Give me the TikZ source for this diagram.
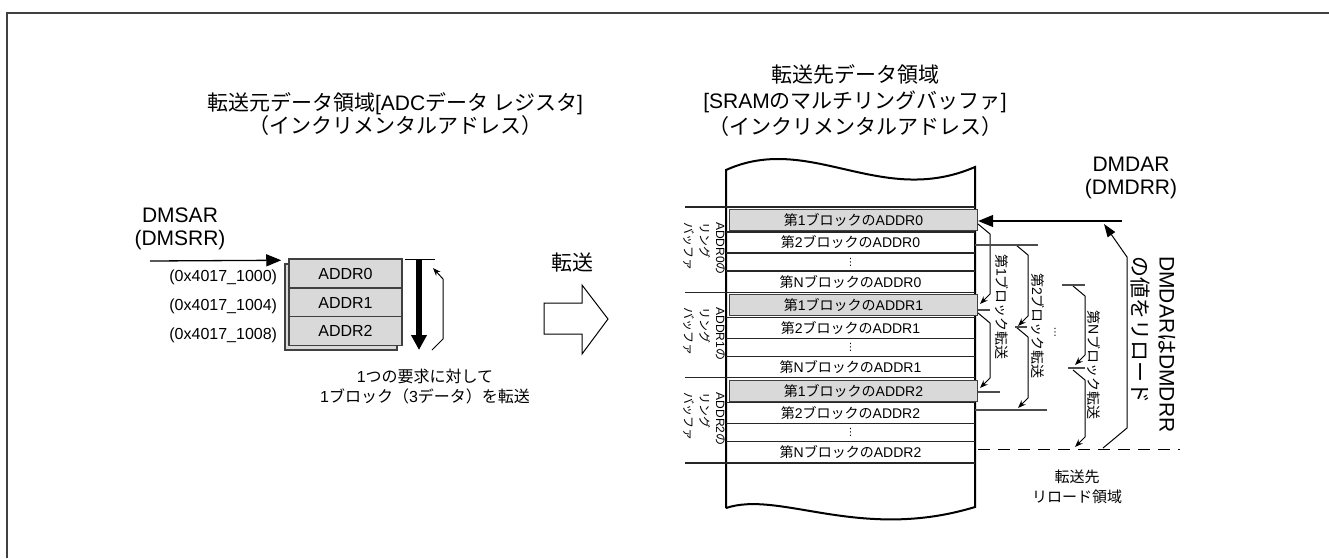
\documentclass[tikz,border=0pt]{standalone}
\usepackage{fontspec}
\setmainfont{Liberation Sans}
\newfontfamily\jpfont{Noto Sans CJK JP}
\newfontfamily\symfont{DejaVu Sans}
\usetikzlibrary{arrows.meta, calc}
\definecolor{boxgray}{RGB}{217,217,217}
\definecolor{edgegray}{RGB}{64,64,64}
\XeTeXinterchartokenstate=1
\newXeTeXintercharclass\jpclass
\newXeTeXintercharclass\symclass
\newcount\jpcode
\def\jprange#1#2{\jpcode=#1 \loop\ifnum\jpcode<#2 \XeTeXcharclass\jpcode=\jpclass \advance\jpcode by 1 \repeat}
\jprange{"3000}{"3100}
\jprange{"4E00}{"A000}
\jprange{"FF00}{"FFF0}
\XeTeXcharclass"22EE=\symclass
\XeTeXinterchartoks 0 \jpclass = {\jpfont}
\XeTeXinterchartoks 4095 \jpclass = {\jpfont}
\XeTeXinterchartoks \jpclass 0 = {\rmfamily}
\XeTeXinterchartoks 4095 0 = {\rmfamily}
\begin{document}
\begin{tikzpicture}[x=1pt, y=-1pt,
  rowtxt/.style={font=\fontsize{14}{16}\selectfont, inner sep=0pt},
  hilite/.style={rowtxt, draw=edgegray, fill=boxgray, line width=1.3pt, minimum width=248pt, minimum height=21pt},
  dotstxt/.style={font=\symfont\fontsize{10}{10}\selectfont, inner sep=0pt},
  srcbox/.style={draw=edgegray, fill=boxgray, line width=1.5pt, minimum width=113pt, minimum height=29pt,
    inner sep=0pt, font=\fontsize{16}{18}\selectfont},
  vlabel/.style={rotate=-90, inner sep=0pt, align=left, anchor=north west},
  brktxt/.style={rotate=-90, inner sep=0pt, font=\fontsize{14}{16}\selectfont},
  bigarr/.style={-{Triangle[length=15pt,width=12pt]}, line width=1.3pt},
  thinarr/.style={-{Stealth[length=8pt,width=6pt]}, line width=1pt},
  rowline/.style={line width=1.2pt, draw=black!85},
  tick/.style={line width=1.2pt, draw=black!70}
]
\useasboundingbox (0,0) rectangle (1329,558);
\draw[line width=2pt, draw=edgegray] (7,558) -- (7,13) -- (1329,13);

\node[font=\fontsize{21}{21}\selectfont, align=center] (srctitle) at (395,114)
  {転送元データ領域[ADCデータ レジスタ]\\（インクリメンタルアドレス）};
\node[font=\fontsize{21}{26}\selectfont, align=center] (dsttitle) at (855,101)
  {転送先データ領域\\{}[SRAMのマルチリングバッファ]\\（インクリメンタルアドレス）};

\node[font=\fontsize{21}{23}\selectfont, align=center, inner sep=0pt] (sar) at (180,229) {DMSAR\\(DMSRR)};
\draw[line width=1.5pt, draw=edgegray, fill=boxgray] (285,264) rectangle (397,350);
\node[srcbox] (a0) at (345.5,273.5) {ADDR0};
\node[srcbox] (a1) at (345.5,302.5) {ADDR1};
\node[srcbox] (a2) at (345.5,331) {ADDR2};
\foreach \i/\ad in {0/1000,1/1004,2/1008}
  \node[anchor=east, inner sep=0pt, font=\fontsize{16}{18}\selectfont] (ad\i) at ([xshift=-11pt,yshift=-4pt]a\i.west) {(0x4017\_\ad)};
\coordinate (sarin) at (150,261);
\draw[bigarr] (sarin) -- ([xshift=-7pt,yshift=-2pt]a0.north west);

\coordinate (blktop) at (419,259);
\coordinate (blkbot) at (419,350);
\draw[line width=6pt, -{Triangle[length=15pt,width=15pt]}] (blktop) -- (blkbot);
\draw[line width=1pt] ([xshift=-14pt]blktop) -- ([xshift=16pt]blktop);
\draw[thinarr] (432,350) -- (443,339) -- (443,279) -- (433,268);
\node[font=\fontsize{16}{20}\selectfont, align=center] (once) at (425,387) {1つの要求に対して\\1ブロック（3データ）を転送};

\node[font=\fontsize{21}{23}\selectfont] (xfer) at (572,263) {転送};
\draw[line width=1pt] (544,303) -- (582,303) -- (582,285) -- (608,319) -- (582,354) -- (582,334) -- (544,334) -- cycle;

\draw[line width=2pt] (726,508) -- (726,170) .. controls (810,132) and (880,208) .. (975,167)
  -- (975,507) .. controls (860,542) and (780,490) .. (726,508);
\foreach \g in {0,1,2} {
  \pgfmathsetmacro\gy{207+85.33*\g}
  \draw[rowline] (685,\gy) -- (975,\gy);
  \foreach \d in {25,46,64} \draw[rowline] (726,\gy+\d) -- (975,\gy+\d);
  \node[hilite] (b\g1) at (853.5,\gy+13) {第1ブロックのADDR\g};
  \node[rowtxt] (b\g2) at (850.5,\gy+35.5) {第2ブロックのADDR\g};
  \node[dotstxt] (b\g3) at (850.5,\gy+55) {⋮};
  \node[rowtxt] (b\g4) at (850.5,\gy+74.7) {第NブロックのADDR\g};
  \node[vlabel, font=\fontsize{12}{16}\selectfont] (ring\g) at (725,\gy+15) {ADDR\g{}の\\リング\\バッファ};
}
\draw[rowline] (685,463) -- (975,463);

\node[font=\fontsize{21}{23}\selectfont, align=center, inner sep=0pt] (dar) at (1131,178) {DMDAR\\(DMDRR)};
\coordinate (darin) at (1122,221);
\draw[bigarr] (darin) -- (b01.east |- darin);

\foreach \xa/\ys/\ye in {978/224/306, 978/313/390, 1016/245/328, 1016/327/410, 1073/286/367, 1073/370/449}
  \draw[thinarr] (\xa,\ys) -- ++(12,10) -- (\xa+12,\ye-12) -- (\xa+2,\ye-2);
\draw[tick] (978,310) -- (990,310);
\draw[tick] (978,392) -- (1000,392);
\draw[tick] (975,245) -- (1038,245);
\draw[tick] (1015,327) -- (1027,327);
\draw[tick] (975,410) -- (1047,410);
\draw[tick] (1062,285) -- (1085,285);
\draw[tick] (1068,368) -- (1085,368);
\node[brktxt] (blk1) at (1002,307) {第1ブロック転送};
\node[brktxt] (blk2) at (1037.5,326) {第2ブロック転送};
\node[brktxt] (blkN) at (1094,365) {第Nブロック転送};
\node[dotstxt] (blkdots) at (1055,332) {⋮};

\coordinate (rlend) at (1180,449);
\draw[dashed, dash pattern=on 12pt off 8pt, line width=1pt] (b21.east |- rlend) -- (rlend);
\coordinate (rld) at (1103,448);
\draw[-{Triangle[length=13pt,width=9pt]}, line width=1pt] (rld) -- (1127,428) -- (1127,257) -- (1104,224);
\node[vlabel, font=\fontsize{21}{27}\selectfont] (rldtxt) at (1176,256) {DMDARはDMDRR\\の値をリロード};
\node[font=\fontsize{15}{20}\selectfont, align=center] (rlarea) at (1077,487) {転送先\\リロード領域};
\end{tikzpicture}
\end{document}
